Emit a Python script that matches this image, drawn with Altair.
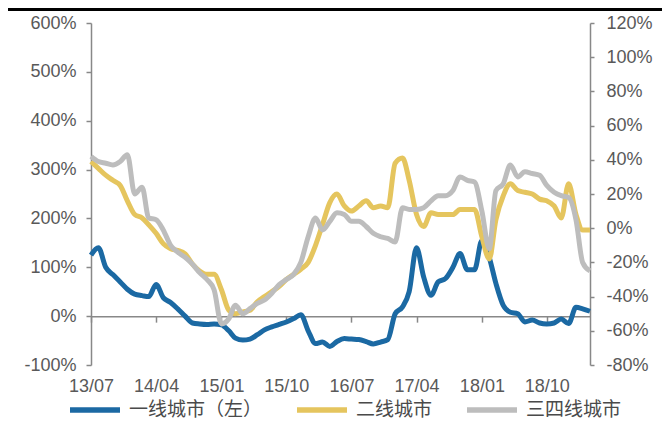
import altair as alt
import pandas as pd

# ---- data (monthly, 2013/07 .. 2019/04) ----
months = pd.date_range("2013-07-01", periods=70, freq="MS")

tier1 = [125, 140, 100, 85, 70, 55, 45, 42, 40, 65,
         38, 28, 15, 0, -14, -16, -17, -16, -18, -30,
         -45, -49, -47, -38, -28, -22, -17, -12, -5, 3,
         -30, -56, -53, -62, -52, -46, -47, -48, -52, -57,
         -53, -48, 5, 19, 50, 140, 80, 43, 70, 77,
         100, 128, 95, 95, 155, 120, 67, 22, 8, 5,
         -12, -8, -14, -16, -14, -6, -15, 18, 15, 10]

tier2 = [39, 35, 31, 28, 25, 16, 8, 6, 2, -3,
         -9, -12, -13, -15, -21, -25, -27, -27, -36, -48,
         -50, -49, -48, -43, -40, -37, -34, -30, -27, -24,
         -20, -10, 2, 15, 20, 13, 10, 13, 16, 12,
         13, 12, 38, 41, 28, 8, 1, 9, 8, 8,
         8, 11, 11, 11, -5, -18, 5, 19, 26, 22,
         21, 20, 17, 16, 13, 6, 26, 8, -1, -1]

tier3 = [42, 39, 38, 37, 39, 43, 20, 24, 6, 5,
         -1, -10, -14, -17, -21, -26, -30, -36, -56, -53,
         -45, -50, -47, -44, -42, -38, -33, -30, -27, -20,
         -5, 6, -1, 4, 9, 8, 4, 4, 1, -3,
         -5, -6, -8, 12, 11, 11, 12, 16, 19, 19,
         22, 30, 28, 27, 10, -12, 22, 26, 37, 30,
         33, 32, 31, 25, 21, 19, 18, 5, -20, -25]

series_names = ["一线城市（左）", "二线城市", "三四线城市"]
colors = ["#1B69A3", "#E5C55E", "#BDBDBD"]
tick_months = [(2013, 7), (2014, 4), (2015, 1), (2015, 10), (2016, 7),
               (2017, 4), (2018, 1), (2018, 10)]
left_ticks = [-100, 0, 100, 200, 300, 400, 500, 600]
right_ticks = [-80, -60, -40, -20, 0, 20, 40, 60, 80, 100, 120]

W, H = 499, 342
PAD_L, PAD_T, PAD_R, PAD_B = 83, 15, 72, 55

df1 = pd.DataFrame({"date": months, "value": tier1, "series": series_names[0]})
df2 = pd.DataFrame({"date": months, "value": tier2, "series": series_names[1]})
df3 = pd.DataFrame({"date": months, "value": tier3, "series": series_names[2]})

FONT = "Liberation Sans"
LABEL_COLOR = "#595959"
AXIS_COLOR = "#888888"

zero_frac = 600 / 700
x_offset = -(H - H * zero_frac)

x_enc = alt.X(
    "date:T",
    title=None,
    scale=alt.Scale(domain=[alt.DateTime(year=2013, month=7, date=1),
                            alt.DateTime(year=2019, month=4, date=1)]),
    axis=alt.Axis(
        values=[alt.DateTime(year=y, month=m, date=1) for y, m in tick_months],
        format="%y/%m", labelFlush=False, grid=False,
        offset=x_offset, tickSize=6, labelPadding=55,
        domainColor=AXIS_COLOR, tickColor=AXIS_COLOR, domainWidth=1.5, tickWidth=1.5,
        labelFont=FONT, labelFontSize=18, labelColor=LABEL_COLOR,
    ),
)

color_enc = alt.Color(
    "series:N",
    scale=alt.Scale(domain=series_names, range=colors),
    legend=alt.Legend(
        title=None, orient="none", direction="horizontal",
        legendX=-24, legendY=359,
        symbolType="stroke", symbolSize=2500, symbolStrokeWidth=5.5,
        labelFont="Noto Sans CJK SC", labelFontSize=19, labelColor="#4a4a4a",
        labelOffset=6, columnPadding=23, padding=0,
    ),
)

line_kw = dict(strokeWidth=5, interpolate="monotone")

left = alt.Chart(df1).mark_line(**line_kw).encode(
    x=x_enc,
    y=alt.Y("value:Q", title=None,
            scale=alt.Scale(domain=[-100, 600], nice=False, zero=False),
            axis=alt.Axis(orient="left", values=left_ticks, grid=False,
                          labelExpr="datum.value + '%'",
                          tickSize=5, labelPadding=10,
                          domainColor=AXIS_COLOR, tickColor=AXIS_COLOR,
                          domainWidth=1.5, tickWidth=1.5,
                          labelFont=FONT, labelFontSize=18, labelColor=LABEL_COLOR)),
    color=color_enc,
)

right_y = alt.Y("value:Q", title=None,
                scale=alt.Scale(domain=[-80, 120], nice=False, zero=False),
                axis=alt.Axis(orient="right", values=right_ticks, grid=False,
                              labelExpr="datum.value + '%'",
                              tickSize=4, labelPadding=12,
                              domainColor=AXIS_COLOR, tickColor=AXIS_COLOR,
                              domainWidth=1.5, tickWidth=1.5,
                              labelFont=FONT, labelFontSize=18, labelColor=LABEL_COLOR))

yellow = alt.Chart(df2).mark_line(**line_kw).encode(x=x_enc, y=right_y, color=color_enc)
gray = alt.Chart(df3).mark_line(**line_kw).encode(x=x_enc, y=right_y, color=color_enc)

right = alt.layer(yellow, gray)

top_rule = alt.Chart(pd.DataFrame({"a": [0]})).mark_rule(color="#000000", strokeWidth=3).encode(
    x=alt.value(-PAD_L), x2=alt.value(W + PAD_R), y=alt.value(-PAD_T + 1.5)
)

chart = alt.layer(left, right, top_rule).resolve_scale(y="independent").properties(
    width=W, height=H,
    autosize=alt.AutoSizeParams(type="none"),
    padding={"left": PAD_L, "top": PAD_T, "right": PAD_R, "bottom": PAD_B},
    background="white",
).configure_view(stroke=None)

chart.save("out.html", embed_options={"renderer": "svg", "actions": False})
